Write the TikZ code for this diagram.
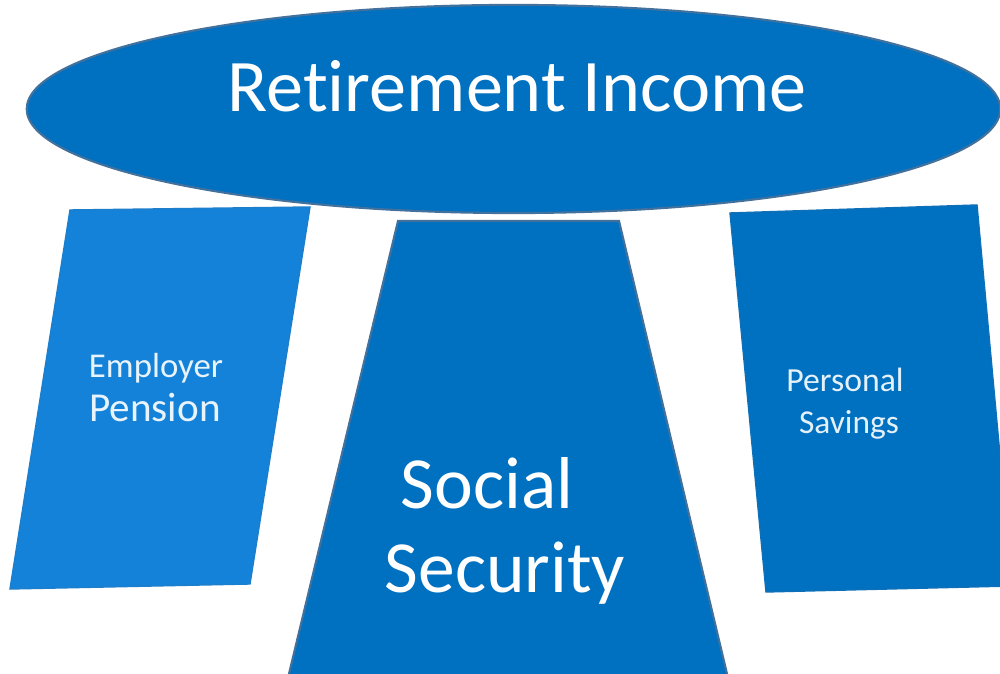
\documentclass[tikz,border=0pt]{standalone}
\usepackage{fontspec}
\setmainfont{Carlito}[Ligatures=NoCommon]
\usetikzlibrary{shapes.geometric}
\definecolor{pillar blue}{HTML}{0070C0}
\definecolor{pension blue}{HTML}{1482D8}
\definecolor{pillar edge}{HTML}{41719C}
\tikzset{filled/.style={fill=pillar blue, draw=pillar edge, line width=0.6pt},
    pillar text/.style={text=white, anchor=base, inner sep=0pt}}

\begin{document}
\begin{tikzpicture}[x=0.01cm,y=-0.01cm]
    % Definition of the three pillars
    \def\pensionshape{(70,210) -- (310,207) -- (250,584) -- (10,589) -- cycle}
    \def\socialshape{(398,221) -- (619,221) -- (728,678) -- (288,678) -- cycle}
    \def\savingsshape{(730,213) -- (977,205) -- (1012,586) -- (766,592) -- cycle}
    %
    \useasboundingbox (0,0) rectangle (1000,674);
    \fill[white] (0,0) rectangle (1000,674);

    \draw[filled, fill=pension blue, draw=pension blue!80!pillar edge, line width=0.4pt] \pensionshape;
    \draw[filled] \socialshape;
    \draw[filled, draw=pillar blue!80!pillar edge, line width=0.4pt] \savingsshape;
    \node[ellipse, filled, minimum width=9.73cm, minimum height=2.08cm] (income) at (513.5,109) {};

    \node[pillar text, font=\fontsize{21.1}{25}\selectfont] (incometext) at (517,112) {Retirement Income};
    \node[pillar text, font=\fontsize{20.9}{25}\selectfont] (social) at (487,509) {Social};
    \node[pillar text, font=\fontsize{20.9}{25}\selectfont] (security) at (505,593) {Security};
    \node[pillar text, text=white!90!pension blue, font=\fontsize{9.9}{12}\selectfont] (employer) at (156,378) {Employer};
    \node[pillar text, text=white!90!pension blue, font=\fontsize{11.7}{14}\selectfont] (pension) at (155,422) {Pension};
    \node[pillar text, text=white!90!pillar blue, font=\fontsize{9.6}{12}\selectfont] (personal) at (845,392) {Personal};
    \node[pillar text, text=white!90!pillar blue, font=\fontsize{9.5}{12}\selectfont] (savings) at (849,434) {Savings};
\end{tikzpicture}
\end{document}
